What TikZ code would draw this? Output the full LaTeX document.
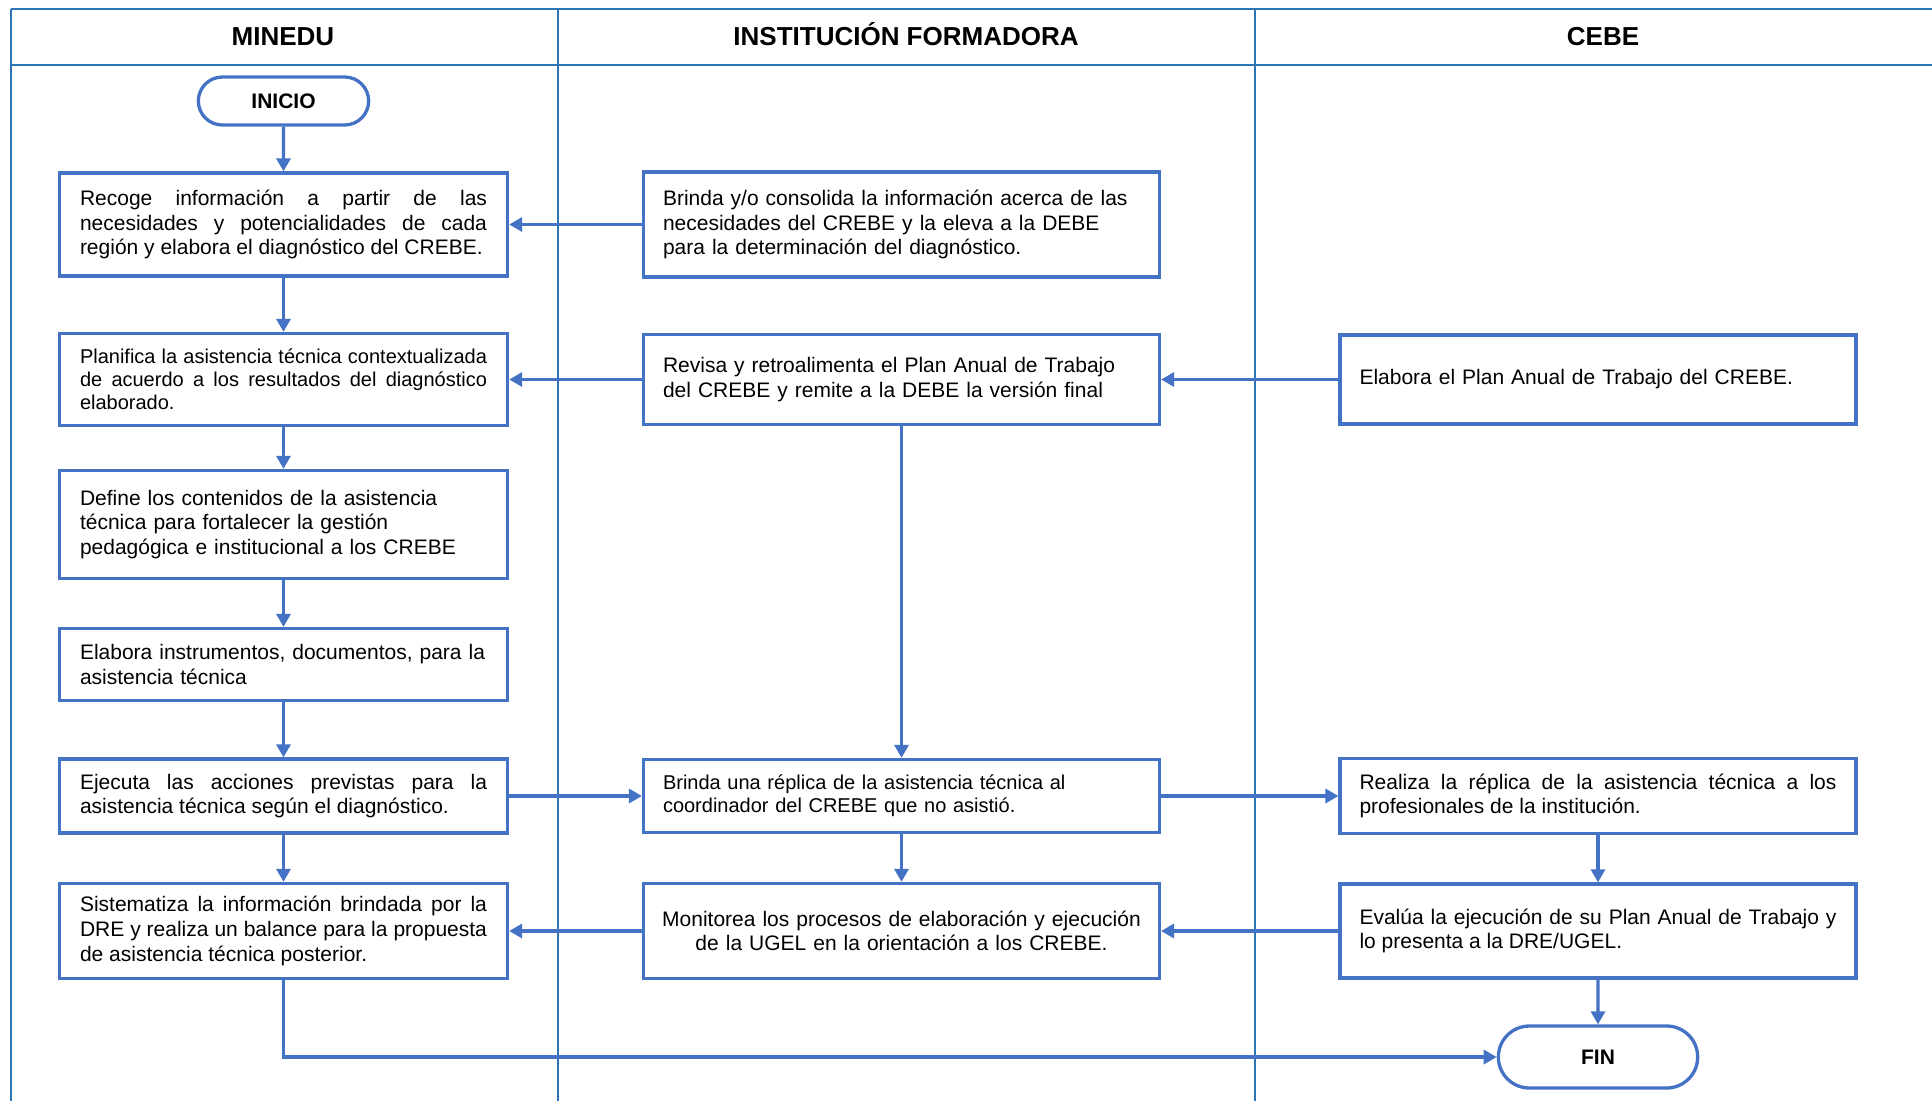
\documentclass[tikz,border=0pt]{standalone}
\usepackage{fontspec}
\setmainfont{Liberation Sans}
\usepackage{xcolor}
\usepackage{tikz}
\usetikzlibrary{shapes,arrows.meta}
\definecolor{boxblue}{HTML}{4472C4}
\definecolor{laneblue}{HTML}{2E75B6}
\newcommand{\boxfont}{\fontsize{21}{24.6}\selectfont}
\newcommand{\boxfontsm}{\fontsize{20}{23.2}\selectfont}
\tolerance=10000
\hyphenpenalty=10000
\tikzset{lbox/.style={rectangle,draw=boxblue,line width=3.3pt,text width=407pt,inner xsep=20.5pt,inner ysep=0pt,align=justify,font=\boxfont}}
\tikzset{mbox/.style={rectangle,draw=boxblue,line width=3.3pt,text width=477pt,inner xsep=19.4pt,inner ysep=0pt,align=left,font=\boxfont}}
\tikzset{term/.style={rounded rectangle,draw=boxblue,line width=3.3pt,font=\fontsize{21}{24}\selectfont\bfseries}}
\tikzset{lane/.style={draw=laneblue,line width=2pt}}
\tikzset{head/.style={anchor=base,font=\fontsize{26}{30}\selectfont\bfseries}}
\tikzset{arr/.style={->,draw=boxblue,line width=3.3pt}}

\begin{document}
\begin{tikzpicture}[x=1pt,y=-1pt,>={Triangle[length=13pt,width=14pt]}]
    \useasboundingbox (0,0) rectangle (1932,1101);

    % lanes
    \draw [lane] (11,9) -- (1932,9);
    \draw [lane] (11,65) -- (1932,65);
    \draw [lane] (11,9) -- (11,1101);
    \draw [lane] (558,9) -- (558,1101);
    \draw [lane] (1255,9) -- (1255,1101);
    \node[head] (hminedu) at (283,45.5) {MINEDU};
    \node[head] (hinst) at (906,45.5) {INSTITUCIÓN FORMADORA};
    \node[head] (hcebe) at (1603,45.5) {CEBE};

    % MINEDU
    \node[term,minimum width=177pt,minimum height=48pt] (ini) at (283.5,101) {INICIO};
    \node[lbox,minimum height=103pt] (b1) at (283.5,224.5) {Recoge información a partir de las\linebreak necesidades y potencialidades de cada\linebreak región y elabora el diagnóstico del CREBE.};
    \node[lbox,minimum height=92pt,font=\boxfontsm] (b2) at (283.5,379.5) {Planifica la asistencia técnica contextualizada\linebreak de acuerdo a los resultados del diagnóstico\linebreak elaborado.};
    \node[lbox,align=left,minimum height=108pt] (b3) at (283.5,524.5) {Define los contenidos de la asistencia\\técnica para fortalecer la gestión\\pedagógica e institucional a los CREBE};
    \node[lbox,align=left,minimum height=72pt] (b4) at (283.5,664.5) {Elabora instrumentos, documentos, para la\\asistencia técnica};
    \node[lbox,minimum height=74pt] (b5) at (283.5,796) {Ejecuta las acciones previstas para la\linebreak asistencia técnica según el diagnóstico.};
    \node[lbox,minimum height=95pt] (b6) at (283.5,931) {Sistematiza la información brindada por la\linebreak DRE y realiza un balance para la propuesta\linebreak de asistencia técnica posterior.};

    % INSTITUCION FORMADORA
    \node[mbox,minimum height=105pt] (m1) at (901.5,224.5) {Brinda y/o consolida la información acerca de las\\necesidades del CREBE y la eleva a la DEBE\\para la determinación del diagnóstico.};
    \node[mbox,minimum height=90pt] (m2) at (901.5,379.5) {Revisa y retroalimenta el Plan Anual de Trabajo\\del CREBE y remite a la DEBE la versión final};
    \node[mbox,minimum height=73pt,font=\boxfontsm] (m3) at (901.5,796) {Brinda una réplica de la asistencia técnica al\\coordinador del CREBE que no asistió.};
    \node[mbox,align=center,text width=489pt,inner xsep=13.4pt,minimum height=95pt] (m4) at (901.5,931) {Monitorea los procesos de elaboración y ejecución\\de la UGEL en la orientación a los CREBE.};

    % CEBE
    \node[mbox,minimum height=89pt] (r1) at (1598,379.5) {Elabora el Plan Anual de Trabajo del CREBE.};
    \node[mbox,align=justify,minimum height=75pt] (r2) at (1598,796) {Realiza la réplica de la asistencia técnica a los\linebreak profesionales de la institución.};
    \node[mbox,align=justify,minimum height=94pt] (r3) at (1598,931) {Evalúa la ejecución de su Plan Anual de Trabajo y\linebreak lo presenta a la DRE/UGEL.};
    \node[term,minimum width=206pt,minimum height=62pt] (fin) at (1598,1057) {FIN};

    \draw [arr] (ini) to (b1);
    \draw [arr] (b1) to (b2);
    \draw [arr] (b2) to (b3);
    \draw [arr] (b3) to (b4);
    \draw [arr] (b4) to (b5);
    \draw [arr] (b5) to (b6);
    \draw [arr] (m1) to (b1);
    \draw [arr] (m2) to (b2);
    \draw [arr] (r1) to (m2);
    \draw [arr] (m2) to (m3);
    \draw [arr] (b5) to (m3);
    \draw [arr] (m3) to (r2);
    \draw [arr] (m3) to (m4);
    \draw [arr] (m4) to (b6);
    \draw [arr] (r3) to (m4);
    \draw [arr] (r2) to (r3);
    \draw [arr] (r3) to (fin);
    \draw [arr] (b6.south) |- (fin.west);
\end{tikzpicture}
\end{document}
